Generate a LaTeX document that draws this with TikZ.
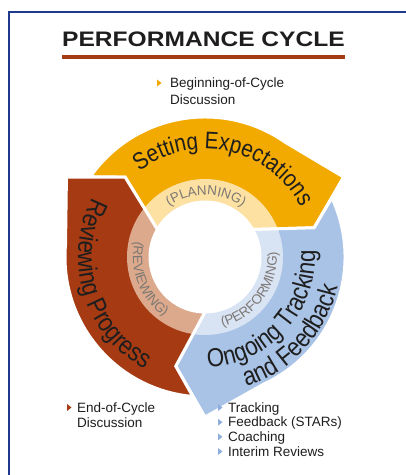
\documentclass[tikz,border=0pt]{standalone}
\usepackage{fontspec}
\setmainfont{Liberation Sans}
\newfontfamily\condfont[FakeStretch=0.86]{Liberation Sans}
\newfontfamily\titrefont[FakeStretch=1.17]{Liberation Sans}
\usetikzlibrary{decorations.text,calc}

\definecolor{cadre}{HTML}{1F3A8C}
\definecolor{rouille}{HTML}{A63A12}
\definecolor{rouilleclair}{HTML}{DCA98C}
\definecolor{orangecycle}{HTML}{F2A900}
\definecolor{orangeclair}{HTML}{FCE1A2}
\definecolor{bleucycle}{HTML}{A9C3E6}
\definecolor{bleuclair}{HTML}{D8E3F4}
\definecolor{texte}{HTML}{1E1E1E}
\definecolor{gris}{HTML}{7D7874}
\definecolor{bleupuce}{HTML}{8EAFDD}

\tikzset{
  liste/.style={anchor=base west, inner sep=0pt, text=texte,
    font=\fontsize{13.5}{13.5}\selectfont},
  bord/.style={white, line width=3, line join=miter},
}

% fleche du cycle : #1 angle de queue, #2 angle de tete, #3 couleur, #4 bande claire
\newcommand{\fleche}[4]{%
  \def\chemin{(#1-5:140) arc[start angle=#1-5, end angle=#2+25, radius=140]
    -- (#2:160) -- (#2-15:113) -- (#2:55)
    arc[start angle=#2, end angle=#1, radius=55] -- (#1-15:113) -- cycle}
  \fill[#3] \chemin;
  \begin{scope}
    \clip \chemin;
    \fill[#4] (0,0) circle (78);
  \end{scope}
  \draw[bord] \chemin;
}

% texte courbe : #1 format, #2 texte, #3 angle debut, #4 angle fin, #5 rayon
\newcommand{\texteArc}[5]{%
  \path[decorate, decoration={text along path, text align=center,
    text={|#1|#2}}] (#3:#5) arc[start angle=#3, end angle=#4, radius=#5];
}

\newcommand{\grand}{\condfont\color{texte}\fontsize{24}{24}\selectfont}
\newcommand{\grosse}{\condfont\color{texte}\fontsize{26}{26}\selectfont}
\newcommand{\petit}{\color{gris}\fontsize{13.5}{13.5}\selectfont}

\begin{document}
\begin{tikzpicture}[x=1pt,y=1pt]
\useasboundingbox (0,0) rectangle (406,475);

% Cadre
\draw[cadre, line width=2, line join=miter] (8.5,0) -- (8.5,462.5) -- (406,462.5);

% Titre
\node[anchor=base, inner sep=0pt, text=texte] (titre) at (203.5,428)
  {\titrefont\bfseries\fontsize{21}{21}\selectfont PERFORMANCE CYCLE};
\draw[rouille, line width=4] (62,418) -- (345,418);

% Cycle
\begin{scope}[shift={(205,218)}]
\fleche{150}{30}{orangecycle}{orangeclair}
\fleche{30}{-90}{bleucycle}{bleuclair}
\fleche{-90}{-210}{rouille}{rouilleclair}

\texteArc{\grand}{Setting Expectations}{128}{27}{108}
\texteArc{\grosse}{Reviewing Progress}{148}{246}{127}
\texteArc{\grosse}{Ongoing Tracking}{265}{370}{110}
\texteArc{\grosse}{and Feedback}{285}{350}{136}

\texteArc{\petit}{(PLANNING)}{125}{53}{62}
\texteArc{\petit}{(REVIEWING)}{164}{239}{72}
\texteArc{\petit}{(PERFORMING)}{275}{373}{72}
\end{scope}

% Debut de cycle
\node[liste] (debut1) at (170,387.5) {Beginning-of-Cycle};
\node[liste] (debut2) at (170,370.5) {Discussion};
\fill[orangecycle] ([shift={(-13,1)}]debut1.base west) -- ++(0,7) -- ++(4.5,-3.5) -- cycle;

% Fin de cycle
\node[liste] (fin1) at (77,63) {End-of-Cycle};
\node[liste] (fin2) at (77,48) {Discussion};
\fill[rouille] ([shift={(-10,1)}]fin1.base west) -- ++(0,7) -- ++(4.5,-3.5) -- cycle;

% Suivi
\node[liste] (suivi1) at (228,63) {Tracking};
\node[liste] (suivi2) at (228,48.3) {Feedback (STARs)};
\node[liste] (suivi3) at (228,33.6) {Coaching};
\node[liste] (suivi4) at (228,19) {Interim Reviews};
\foreach \n in {suivi1,suivi2,suivi3,suivi4}
  \fill[bleupuce] ([shift={(-10,1)}]\n.base west) -- ++(0,7) -- ++(4.5,-3.5) -- cycle;

\end{tikzpicture}
\end{document}
